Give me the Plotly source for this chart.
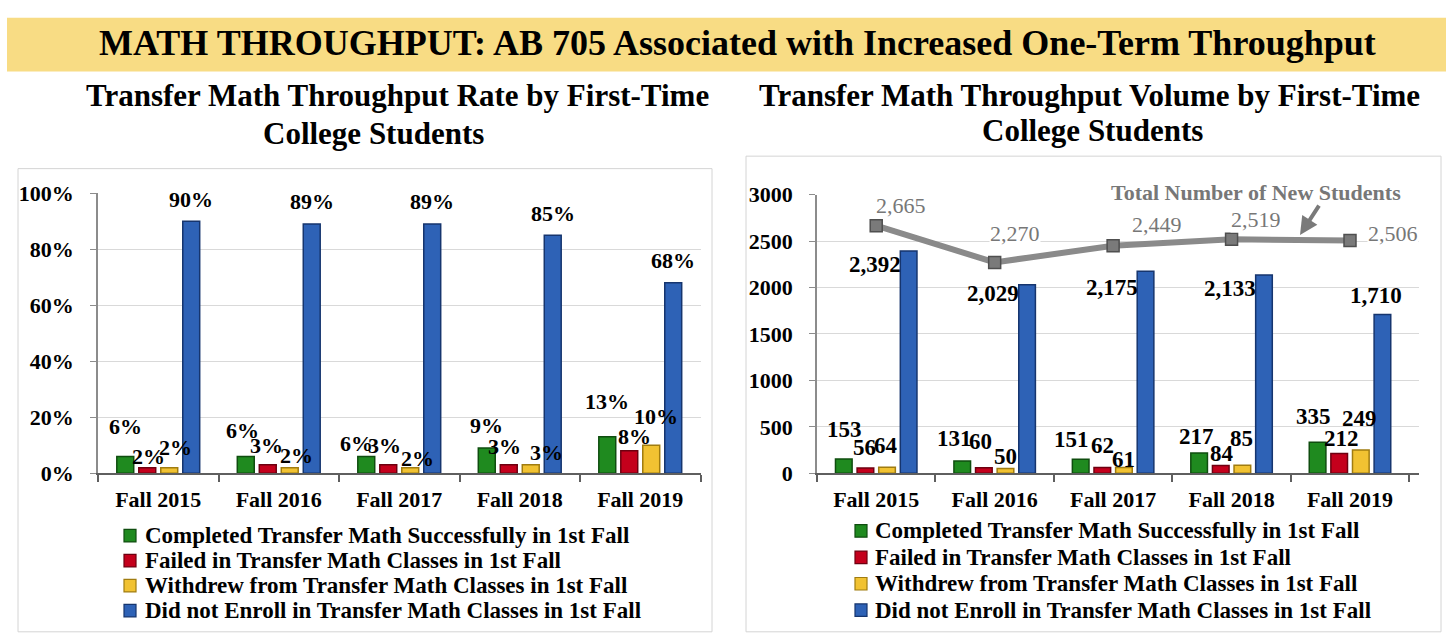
import plotly.graph_objects as go

W, H = 1446, 640

# ---------------------------------------------------------------- data
years = ["Fall 2015", "Fall 2016", "Fall 2017", "Fall 2018", "Fall 2019"]
series_names = [
    "Completed Transfer Math Successfully in 1st Fall",
    "Failed in Transfer Math Classes in 1st Fall",
    "Withdrew from Transfer Math Classes in 1st Fall",
    "Did not Enroll in Transfer Math Classes in 1st Fall",
]

# throughput rate (%)
rate_completed = [6, 6, 6, 9, 13]
rate_failed = [2, 3, 3, 3, 8]
rate_withdrew = [2, 2, 2, 3, 10]
rate_not_enrolled = [90, 89, 89, 85, 68]

# throughput volume (students)
vol_completed = [153, 131, 151, 217, 335]
vol_failed = [56, 60, 62, 84, 212]
vol_withdrew = [64, 50, 61, 85, 249]
vol_not_enrolled = [2392, 2029, 2175, 2133, 1710]
total_new_students = [2665, 2270, 2449, 2519, 2506]

rate_ticks = [0, 20, 40, 60, 80, 100]
vol_ticks = [0, 500, 1000, 1500, 2000, 2500, 3000]

main_title = "MATH THROUGHPUT: AB 705 Associated with Increased One-Term Throughput"
left_title = ["Transfer Math Throughput Rate by First-Time", "College Students"]
right_title = ["Transfer Math Throughput Volume by First-Time", "College Students"]
callout_text = "Total Number of New Students"

# ---------------------------------------------------------------- styles
FONT = "Liberation Serif"
fills = ["#1f8a1f", "#c4001c", "#f1c232", "#2e62b6"]
edges = ["#0f4d0f", "#6e0010", "#a07c10", "#16356e"]
LINE_GRAY = "#8a8a8a"
LABEL_GRAY = "#777777"

# label offsets (px) relative to each bar's centre / top: (dx, dy), dy<0 is up
rate_label_off = [
    [(0, -30), (-3, -26), (-10, -13), (0, -23), (0, -35)],
    [(1, -11), (-1, -19), (-4, -19), (-4, -18), (5, -14)],
    [(6, -20), (7, -12), (7, -9), (16, -12), (5, -29)],
    [(0, -22), (0, -22), (0, -22), (0, -22), (0, -22)],
]
vol_label_off = [
    [(1, -30), (-7, -23), (-9, -20), (-2, -17), (-4, -26)],
    [(-1, -21), (-3, -26), (0, -22), (1, -12), (2, -15)],
    [(-1, -22), (0, -12), (-1, -8), (-1, -27), (-1, -32)],
    [(-34, 13), (-35, 9), (-34, 16), (-35, 13), (-7, -19)],
]
total_label_off = [(25, -20), (20, -29), (44, -21), (24, -20), (43, -7)]

BARGAP, BARGROUPGAP = 0.27, 0.23

# plot-area pixel boxes: (left, right, top, bottom)
L_BOX = (98, 700.5, 188.5, 480)
R_BOX = (817, 1419, 190, 480)


def px(x):
    return x / W


def py(y):
    return 1 - y / H


def bar_shift(box, i):
    cat_px = (box[1] - box[0]) / len(years)
    slot = cat_px * (1 - BARGAP) / 4
    return (i - 1.5) * slot


fig = go.Figure()

rate_series = [rate_completed, rate_failed, rate_withdrew, rate_not_enrolled]
vol_series = [vol_completed, vol_failed, vol_withdrew, vol_not_enrolled]

for i, vals in enumerate(rate_series):
    fig.add_trace(go.Bar(
        x=years, y=vals, name=series_names[i], showlegend=False,
        marker=dict(color=fills[i], line=dict(color=edges[i], width=1.5)),
        xaxis="x", yaxis="y",
    ))
for i, vals in enumerate(vol_series):
    fig.add_trace(go.Bar(
        x=years, y=vals, name=series_names[i], showlegend=False,
        marker=dict(color=fills[i], line=dict(color=edges[i], width=1.5)),
        xaxis="x2", yaxis="y2",
    ))

fig.add_trace(go.Scatter(
    x=years, y=total_new_students, name=callout_text, showlegend=False,
    mode="lines+markers",
    line=dict(color=LINE_GRAY, width=6),
    marker=dict(symbol="square", size=12, color="#7a7a7a",
                line=dict(color="#4f4f4f", width=1.5)),
    xaxis="x2", yaxis="y2",
))

annotations = []
shapes = []

# value labels on the bars
for i, vals in enumerate(rate_series):
    for j, v in enumerate(vals):
        dx, dy = rate_label_off[i][j]
        annotations.append(dict(
            x=years[j], y=v, xref="x", yref="y", text=f"<b>{v}%</b>",
            showarrow=False, xanchor="center", yanchor="middle",
            xshift=bar_shift(L_BOX, i) + dx, yshift=-dy,
            font=dict(family=FONT, size=22, color="black"),
        ))
for i, vals in enumerate(vol_series):
    for j, v in enumerate(vals):
        dx, dy = vol_label_off[i][j]
        annotations.append(dict(
            x=years[j], y=v, xref="x2", yref="y2", text=f"<b>{v:,}</b>",
            showarrow=False, xanchor="center", yanchor="middle",
            xshift=bar_shift(R_BOX, i) + dx, yshift=-dy,
            font=dict(family=FONT, size=23, color="black"),
        ))
for j, v in enumerate(total_new_students):
    dx, dy = total_label_off[j]
    annotations.append(dict(
        x=years[j], y=v, xref="x2", yref="y2", text=f"{v:,}",
        showarrow=False, xanchor="center", yanchor="middle",
        xshift=dx, yshift=-dy, bgcolor="white", borderpad=0,
        font=dict(family=FONT, size=22, color=LABEL_GRAY),
    ))

# call-out for the total line
annotations.append(dict(
    x=px(1256), y=py(188), xref="paper", yref="paper",
    text=f"<b>{callout_text}</b>", showarrow=False, bgcolor="white",
    xanchor="center", yanchor="middle", borderpad=1,
    font=dict(family=FONT, size=22, color=LABEL_GRAY),
))
annotations.append(dict(
    x=px(1300), y=py(232), xref="paper", yref="paper", text=" ",
    showarrow=True, ax=22, ay=-34, arrowhead=2, arrowsize=0.9,
    arrowwidth=4, arrowcolor="#7a7a7a", standoff=0, startstandoff=0,
))

# banner and titles
shapes.append(dict(type="rect", xref="paper", yref="paper",
                   x0=px(7), x1=1, y0=py(62), y1=py(6),
                   fillcolor="#f8dc84", line=dict(width=0), layer="below"))
annotations.append(dict(
    x=px(737), y=py(32), xref="paper", yref="paper",
    text=f"<b>{main_title}</b>", showarrow=False,
    xanchor="center", yanchor="middle",
    font=dict(family=FONT, size=36, color="black"),
))
for (cx1, cy1, cx2, cy2, lines) in [
    (397, 87, 373, 126, left_title),
    (1089, 87, 1092, 123, right_title),
]:
    annotations.append(dict(
        x=px(cx1), y=py(cy1), xref="paper", yref="paper",
        text=f"<b>{lines[0]}</b>", showarrow=False,
        xanchor="center", yanchor="middle",
        font=dict(family=FONT, size=31, color="black"),
    ))
    annotations.append(dict(
        x=px(cx2), y=py(cy2), xref="paper", yref="paper",
        text=f"<b>{lines[1]}</b>", showarrow=False,
        xanchor="center", yanchor="middle",
        font=dict(family=FONT, size=31, color="black"),
    ))

# panel frames
for (x0, y0, x1, y1) in [(18, 163, 712, 645), (746, 150, 1441, 645)]:
    shapes.append(dict(type="rect", xref="paper", yref="paper",
                       x0=px(x0), x1=px(x1), y0=py(y1), y1=py(y0),
                       line=dict(color="#d4d4d4", width=1),
                       fillcolor="rgba(0,0,0,0)", layer="below"))

# legends
for (sx, tx, y0, step) in [(130, 143, 545, 26), (861, 873, 540, 27.5)]:
    for i, name in enumerate(series_names):
        yc = y0 + i * step
        shapes.append(dict(type="rect", xref="paper", yref="paper",
                           x0=px(sx - 6), x1=px(sx + 6),
                           y0=py(yc + 6.5), y1=py(yc - 6.5),
                           fillcolor=fills[i],
                           line=dict(color=edges[i], width=1.2)))
        annotations.append(dict(
            x=px(tx), y=py(yc), xref="paper", yref="paper",
            text=f"<b>{name}</b>", showarrow=False,
            xanchor="left", yanchor="middle",
            font=dict(family=FONT, size=23, color="black"),
        ))

tick_font = dict(family=FONT, size=22, color="black", weight="bold")

xaxis_common = dict(
    type="category", showgrid=False, showline=True, linecolor="#5f5f5f",
    linewidth=2, ticks="outside", tickson="boundaries", ticklen=7,
    tickcolor="#5f5f5f", tickwidth=1.5, tickfont=tick_font,
    ticklabelstandoff=5, fixedrange=True,
)
yaxis_common = dict(
    showgrid=True, gridcolor="#d9d9d9", gridwidth=1, showline=True,
    linecolor="#8c8c8c", linewidth=1.5, ticks="outside", ticklen=6,
    tickcolor="#8c8c8c", tickfont=tick_font, zeroline=False,
    ticklabelstandoff=12, fixedrange=True,
)

fig.update_layout(
    width=W, height=H,
    margin=dict(l=0, r=0, t=0, b=0),
    paper_bgcolor="white", plot_bgcolor="white",
    barmode="group", bargap=BARGAP, bargroupgap=BARGROUPGAP,
    showlegend=False,
    xaxis=dict(domain=[px(L_BOX[0]), px(L_BOX[1])], anchor="y", **xaxis_common),
    yaxis=dict(domain=[py(L_BOX[3]), py(L_BOX[2])], anchor="x",
               range=[0, 100], tickvals=rate_ticks,
               ticktext=[f"{t}%" for t in rate_ticks], **yaxis_common),
    xaxis2=dict(domain=[px(R_BOX[0]), px(R_BOX[1])], anchor="y2", **xaxis_common),
    yaxis2=dict(domain=[py(R_BOX[3]), py(R_BOX[2])], anchor="x2",
                range=[0, 3000], tickvals=vol_ticks,
                ticktext=[str(t) for t in vol_ticks], **yaxis_common),
    annotations=annotations,
    shapes=shapes,
)

fig.write_html("out.html")
